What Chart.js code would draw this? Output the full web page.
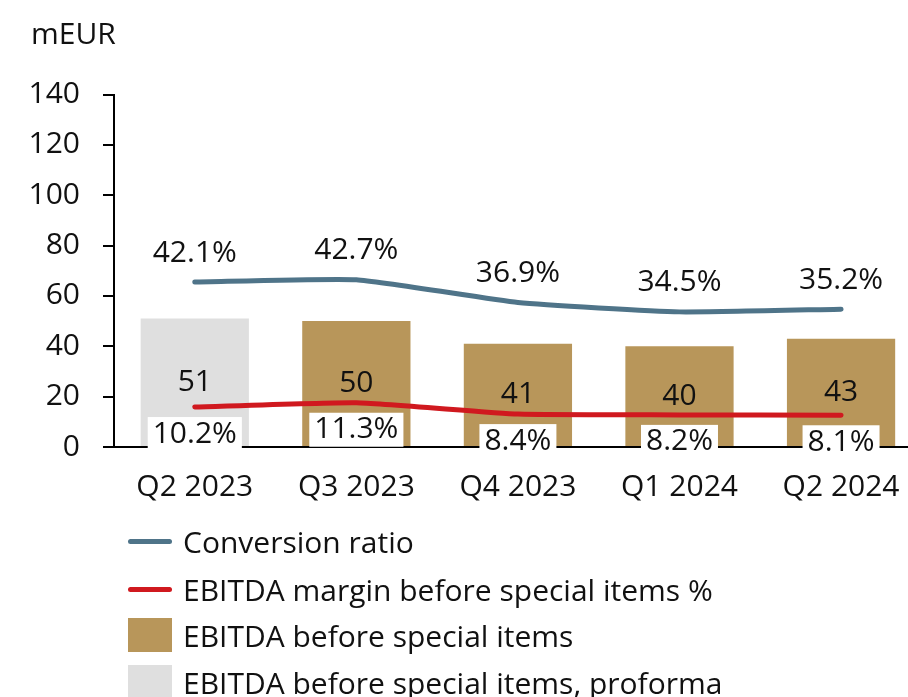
<!DOCTYPE html>
<html>
<head>
<meta charset="utf-8">
<script src="https://cdn.jsdelivr.net/npm/chart.js@4.4.1/dist/chart.umd.min.js"></script>
<style>
  html, body { margin: 0; padding: 0; background: #fff; overflow: hidden; }
  body { width: 908px; height: 697px; position: relative; font-family: "Open Sans", sans-serif; }
  #wrap { position: absolute; left: 0; top: 0; width: 922px; height: 540px; }
  #legend { position: absolute; left: 0; top: 0; width: 908px; height: 697px; pointer-events: none; }
  .item { position: absolute; left: 128px; height: 34px; display: flex; align-items: center;
          font-size: 30px; color: #111; white-space: nowrap; }
  .item:nth-child(1) { top: 524px; }
  .item:nth-child(2) { top: 572px; }
  .item:nth-child(3) { top: 618px; }
  .item:nth-child(4) { top: 665px; }
  .sym { width: 44px; margin-right: 11px; flex: none; }
  .sym.line { height: 5px; border-radius: 3px; }
  .sym.box { height: 34px; }
</style>
</head>
<body>
<div id="wrap"><canvas id="myChart"></canvas></div>
<div id="legend"></div>

<script>
// data
const quarters = ['Q2 2023', 'Q3 2023', 'Q4 2023', 'Q1 2024', 'Q2 2024'];
const ebitdaProforma = [51, null, null, null, null];
const ebitda = [null, 50, 41, 40, 43];
const conversionRatio = [42.1, 42.7, 36.9, 34.5, 35.2];
const ebitdaMargin = [10.2, 11.3, 8.4, 8.2, 8.1];
const yTicks = [0, 20, 40, 60, 80, 100, 120, 140];

const FONT = '"Open Sans", sans-serif';
const TEXT = '#111';

// draws the numbers on bars and lines
const valueLabels = {
    id: 'valueLabels',
    afterDatasetsDraw(chart) {
        const ctx = chart.ctx;
        ctx.save();
        ctx.font = '30px ' + FONT;
        ctx.textAlign = 'center';
        ctx.textBaseline = 'middle';

        const boxes = [];
        chart.data.datasets.forEach((ds, i) => {
            const meta = chart.getDatasetMeta(i);
            meta.data.forEach((el, j) => {
                const v = ds.data[j];
                if (v == null) return;
                if (ds.type === 'bar') {
                    ctx.fillStyle = TEXT;
                    ctx.fillText(String(v), el.x, (el.y + el.base) / 2);
                } else if (ds.labelPos === 'above') {
                    ctx.fillStyle = TEXT;
                    ctx.fillText(v.toFixed(1) + '%', el.x, el.y - 29);
                } else {
                    boxes.push({ x: el.x, y: el.y + 26, text: v.toFixed(1) + '%' });
                }
            });
        });

        // white boxed labels go last, over the axis line
        boxes.forEach(b => {
            const w = ctx.measureText(b.text).width + 10;
            ctx.fillStyle = '#fff';
            ctx.fillRect(b.x - w / 2, b.y - 16, w, 34);
            ctx.fillStyle = TEXT;
            ctx.fillText(b.text, b.x, b.y + 1);
        });
        ctx.restore();
    }
};

let chart;

function inicializarGrafico() {
    const ctx = document.getElementById('myChart').getContext('2d');

    chart = new Chart(ctx, {
        data: {
            labels: quarters,
            datasets: [
                {
                    type: 'line',
                    label: 'Conversion ratio',
                    data: conversionRatio,
                    yAxisID: 'y1',
                    borderColor: '#4F7489',
                    backgroundColor: '#4F7489',
                    borderWidth: 5,
                    borderCapStyle: 'round',
                    borderJoinStyle: 'round',
                    pointRadius: 0,
                    tension: 0.15,
                    labelPos: 'above',
                    order: 0
                },
                {
                    type: 'line',
                    label: 'EBITDA margin before special items %',
                    data: ebitdaMargin,
                    yAxisID: 'y1',
                    borderColor: '#D0191F',
                    backgroundColor: '#D0191F',
                    borderWidth: 5,
                    borderCapStyle: 'round',
                    borderJoinStyle: 'round',
                    pointRadius: 0,
                    tension: 0.15,
                    labelPos: 'below',
                    order: 1
                },
                {
                    type: 'bar',
                    label: 'EBITDA before special items',
                    data: ebitda,
                    backgroundColor: '#B8965A',
                    grouped: false,
                    barPercentage: 0.67,
                    categoryPercentage: 1,
                    order: 2
                },
                {
                    type: 'bar',
                    label: 'EBITDA before special items, proforma',
                    data: ebitdaProforma,
                    backgroundColor: '#DFDFDF',
                    grouped: false,
                    barPercentage: 0.67,
                    categoryPercentage: 1,
                    order: 3
                }
            ]
        },
        options: {
            responsive: true,
            maintainAspectRatio: false,
            animation: false,
            layout: { padding: { left: 31, right: 0, top: 0, bottom: 12 } },
            plugins: {
                legend: { display: false },
                tooltip: { enabled: false },
                title: {
                    display: true,
                    text: 'mEUR',
                    align: 'start',
                    color: TEXT,
                    font: { family: FONT, size: 30, weight: 'normal' },
                    padding: { top: 17, bottom: 41.5 }
                }
            },
            scales: {
                x: {
                    grid: { display: false, drawTicks: false },
                    border: { display: true, color: '#000', width: 2 },
                    ticks: { color: TEXT, padding: 22.5, font: { family: FONT, size: 30 } },
                    afterFit: axis => { axis.height = 81; }
                },
                y: {
                    min: 0,
                    max: 140,
                    afterBuildTicks: axis => { axis.ticks = yTicks.map(v => ({ value: v })); },
                    grid: { drawOnChartArea: false, drawTicks: true, tickLength: 11, color: '#000', lineWidth: 2 },
                    border: { display: true, color: '#000', width: 2 },
                    ticks: { color: TEXT, padding: 23, font: { family: FONT, size: 30 } },
                    afterFit: axis => { axis.width = 83; }
                },
                y1: {
                    display: false,
                    min: 0,
                    max: 90
                }
            }
        },
        plugins: [valueLabels]
    });
}

function construirLeyenda() {
    const legend = document.getElementById('legend');
    chart.data.datasets.forEach(ds => {
        const item = document.createElement('div');
        item.className = 'item';
        const sym = document.createElement('span');
        sym.className = 'sym ' + (ds.type === 'line' ? 'line' : 'box');
        sym.style.background = ds.type === 'line' ? ds.borderColor : ds.backgroundColor;
        const txt = document.createElement('span');
        txt.textContent = ds.label;
        item.appendChild(sym);
        item.appendChild(txt);
        legend.appendChild(item);
    });
}

inicializarGrafico();
construirLeyenda();
</script>
</body>
</html>
